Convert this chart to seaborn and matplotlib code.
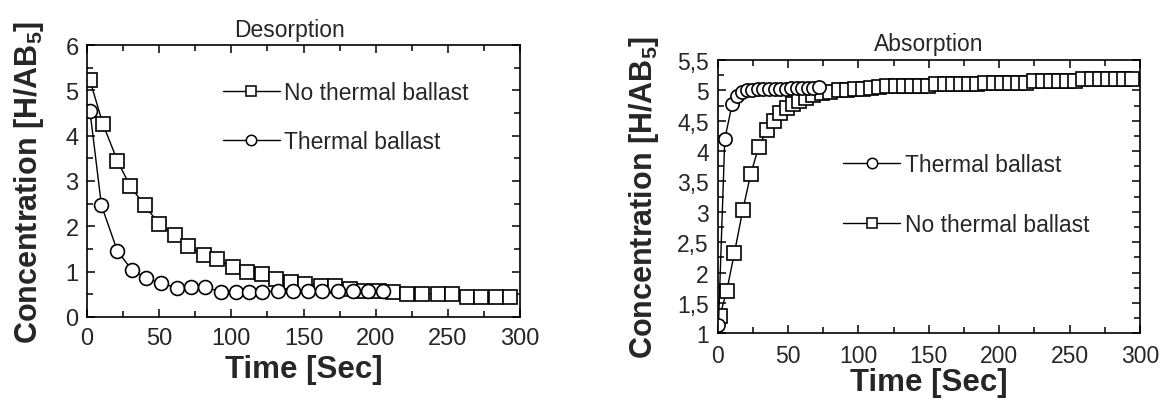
import matplotlib
matplotlib.use("Agg")
import matplotlib.pyplot as plt
import seaborn as sns
import pandas as pd
from matplotlib.lines import Line2D
from matplotlib.ticker import FixedLocator, FixedFormatter, MultipleLocator

# ---- Desorption: hydrogen concentration vs time ----
des_time_plain = [2, 11, 21, 30, 40, 50, 61, 70, 81, 90, 101, 111, 121, 131, 141,
                  151, 162, 172, 182, 192, 202, 212, 222, 232, 243, 253, 263, 273, 283, 293]
des_conc_plain = [5.22, 4.26, 3.45, 2.88, 2.46, 2.05, 1.80, 1.57, 1.37, 1.27, 1.10, 0.99,
                  0.94, 0.84, 0.78, 0.73, 0.68, 0.68, 0.62, 0.58, 0.57, 0.56, 0.51, 0.51,
                  0.51, 0.51, 0.44, 0.44, 0.44, 0.44]
des_time_ballast = [2, 10, 21, 31, 41, 51, 62, 72, 82, 93, 103, 112, 121, 132, 143,
                    153, 163, 174, 184, 195, 205]
des_conc_ballast = [4.55, 2.46, 1.46, 1.04, 0.86, 0.74, 0.65, 0.66, 0.66, 0.55, 0.55,
                    0.55, 0.56, 0.57, 0.57, 0.57, 0.57, 0.57, 0.57, 0.57, 0.57]

# ---- Absorption: hydrogen concentration vs time ----
abs_time_ballast = [0.5, 5.0, 10.2, 13.7, 17.3, 21.0, 24.6, 28.6, 32.4, 36.4, 40.4,
                    44.2, 48.2, 52.3, 56.0, 60.1, 64.1, 68.0, 71.7]
abs_conc_ballast = [1.13, 4.20, 4.77, 4.90, 4.97, 5.00, 5.01, 5.02, 5.02, 5.03, 5.03,
                    5.03, 5.03, 5.04, 5.04, 5.04, 5.04, 5.04, 5.05]
abs_time_plain = [1.5, 6.4, 11.8, 17.8, 23.4, 29.1, 35.0, 40.0, 44.5, 49.0, 53.5, 58.0,
                  63.0, 68.0, 74.0, 80.0, 85.8, 91.6, 97.4, 103.2, 109.0, 114.8, 120.6,
                  126.4, 132.2, 138.0, 143.8, 149.6, 155.4, 161.2, 167.0, 172.8, 178.6,
                  184.4, 190.2, 196.0, 201.8, 207.6, 213.4, 219.2, 225.0, 230.8, 236.6,
                  242.4, 248.2, 254.0, 259.8, 265.6, 271.4, 277.2, 283.0, 288.8, 294.6]
abs_conc_plain = [1.29, 1.70, 2.32, 3.03, 3.62, 4.07, 4.35, 4.50, 4.62, 4.71, 4.78, 4.83,
                  4.88, 4.92, 4.96, 4.98, 5.00, 5.01, 5.02, 5.03, 5.04, 5.05, 5.07,
                  5.07, 5.07, 5.07, 5.07, 5.07, 5.10, 5.10, 5.10, 5.10, 5.10, 5.10,
                  5.12, 5.12, 5.12, 5.12, 5.12, 5.12, 5.15, 5.15, 5.15, 5.15, 5.15,
                  5.15, 5.18, 5.18, 5.18, 5.18, 5.18, 5.18, 5.18]

label_plain = "No thermal ballast"
label_ballast = "Thermal ballast"
time_ticks = [0, 50, 100, 150, 200, 250, 300]
des_conc_ticks = [0, 1, 2, 3, 4, 5, 6]
abs_conc_ticks = [1, 1.5, 2, 2.5, 3, 3.5, 4, 4.5, 5, 5.5]
abs_conc_ticklabels = ["1", "1,5", "2", "2,5", "3", "3,5", "4", "4,5", "5", "5,5"]

sns.set_theme(style="ticks")
plt.rcParams["font.family"] = ["Liberation Sans", "DejaVu Sans"]
plt.rcParams["mathtext.fontset"] = "custom"
plt.rcParams["mathtext.rm"] = "Liberation Sans"
plt.rcParams["mathtext.bf"] = "Liberation Sans:bold"

fig = plt.figure(figsize=(11.65, 4.10), dpi=100)
ax1 = fig.add_axes([0.0747, 0.2244, 0.3717, 0.6634])
ax2 = fig.add_axes([0.6161, 0.1846, 0.3624, 0.6666])

line_kw = dict(color="black", linewidth=1.0, markerfacecolor="white",
               markeredgecolor="black", markeredgewidth=1.2,
               estimator=None, sort=False, legend=False)

# Desorption curves
sns.lineplot(x=des_time_plain, y=des_conc_plain, ax=ax1, marker="s", markersize=10.5, **line_kw)
sns.lineplot(x=des_time_ballast, y=des_conc_ballast, ax=ax1, marker="o", markersize=10, **line_kw)

# Absorption curves
sns.lineplot(x=abs_time_plain, y=abs_conc_plain, ax=ax2, marker="s", markersize=9.5, **line_kw)
sns.lineplot(x=abs_time_ballast, y=abs_conc_ballast, ax=ax2, marker="o", markersize=9.5, **line_kw)

ylabel = r"Concentration [H/AB$_\mathbf{5}$]"

for ax in (ax1, ax2):
    ax.set_xlim(0, 300)
    ax.xaxis.set_major_locator(FixedLocator(time_ticks))
    ax.xaxis.set_minor_locator(MultipleLocator(25))
    ax.tick_params(which="both", direction="in", top=True, right=True,
                   width=1.1, color="black")
    ax.tick_params(which="major", length=6)
    ax.tick_params(which="minor", length=4)
    for sp in ax.spines.values():
        sp.set_visible(True)
        sp.set_linewidth(1.2)
        sp.set_color("black")
    ax.set_xlabel("Time [Sec]", fontsize=22.5, fontweight="bold")
    ax.set_ylabel(ylabel, fontsize=22, fontweight="bold")

# Desorption axes
ax1.set_ylim(0, 6)
ax1.yaxis.set_major_locator(FixedLocator(des_conc_ticks))
ax1.yaxis.set_minor_locator(MultipleLocator(0.5))
ax1.tick_params(which="major", labelsize=17)
ax1.tick_params(axis="x", pad=7.5)
ax1.tick_params(axis="y", pad=6)
ax1.xaxis.labelpad = 3
ax1.yaxis.labelpad = 14
ax1.set_title("Desorption", fontsize=16.5, pad=6.5, x=0.4665)

# Absorption axes
ax2.set_ylim(1, 5.5)
ax2.yaxis.set_major_locator(FixedLocator(abs_conc_ticks))
ax2.yaxis.set_major_formatter(FixedFormatter(abs_conc_ticklabels))
ax2.yaxis.set_minor_locator(MultipleLocator(0.25))
ax2.tick_params(which="major", labelsize=16.5)
ax2.tick_params(axis="x", pad=8)
ax2.tick_params(axis="y", pad=6.5)
ax2.xaxis.labelpad = 0
ax2.yaxis.labelpad = 11.5
ax2.set_title("Absorption", fontsize=16.5, pad=7)

# Legends with smaller open markers
def handle(marker):
    return Line2D([], [], color="black", linewidth=1.0, marker=marker, markersize=7.5,
                  markerfacecolor="white", markeredgecolor="black", markeredgewidth=1.1)

leg_kw = dict(loc="upper left", frameon=False, fontsize=16.5, borderpad=0,
              borderaxespad=0, handlelength=2.5, handletextpad=0.2)
ax1.legend([handle("s"), handle("o")], [label_plain, label_ballast],
           bbox_to_anchor=(0.313, 0.868), labelspacing=1.13, **leg_kw)
ax2.legend([handle("o"), handle("s")], [label_ballast, label_plain],
           bbox_to_anchor=(0.297, 0.660), labelspacing=1.6, **leg_kw)

fig.savefig("out.png", dpi=100)
